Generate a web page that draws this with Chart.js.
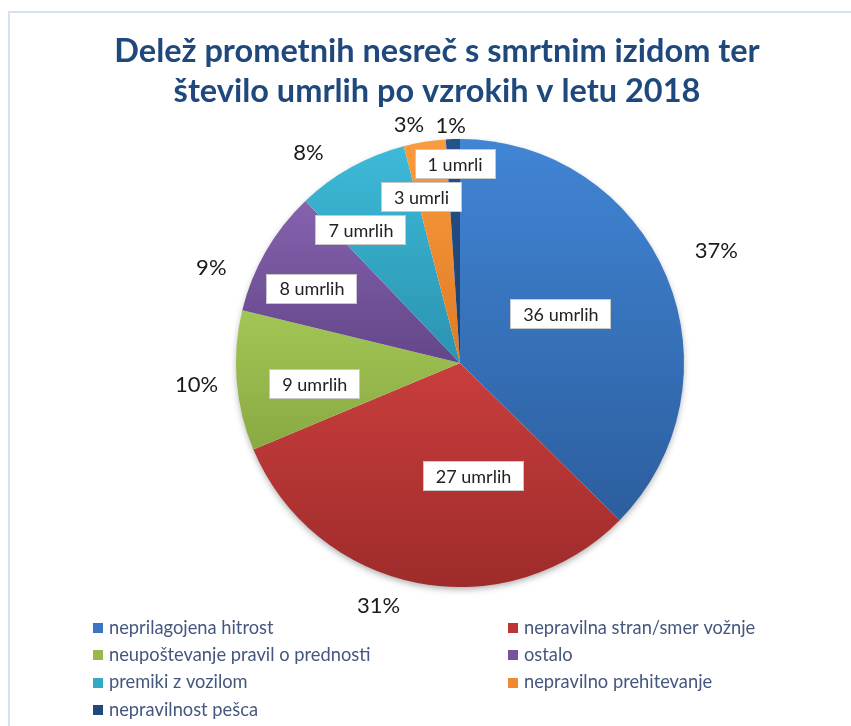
<!DOCTYPE html>
<html>
<head>
<meta charset="utf-8">
<script src="https://cdn.jsdelivr.net/npm/chart.js@4/dist/chart.umd.min.js"></script>
<style>
  body { margin: 0; background: #fff; }
  #wrap { width: 851px; height: 726px; }
</style>
</head>
<body>
<div id="wrap"><canvas id="pieChart" width="851" height="726"></canvas></div>
<script>
// data
var titleLines = ["Delež prometnih nesreč s smrtnim izidom ter", "število umrlih po vzrokih v letu 2018"];
var causes = ["neprilagojena hitrost", "nepravilna stran/smer vožnje", "neupoštevanje pravil o prednosti",
              "ostalo", "premiki z vozilom", "nepravilno prehitevanje", "nepravilnost pešca"];
var sharePct = [37, 31, 10, 9, 8, 3, 1];   // share of fatal accidents (%)
var deaths = [36, 27, 9, 8, 7, 3, 1];      // number of killed

// colours (top / bottom of each slice gradient)
var topCol = ["#4185d5", "#c93e3d", "#a2c655", "#8562ae", "#3dbad8", "#f99b3e", "#25528a"];
var botCol = ["#2c5e9e", "#9e2b2b", "#89a942", "#634689", "#2a93b0", "#e07b24", "#1c3e6e"];
var keyCol = ["#3a74c2", "#bb3737", "#97b94c", "#75549c", "#35a8c6", "#ef8a30", "#21497c"];

// label placement (angle shift in degrees from slice middle, distance as part of radius)
var innerShift = [-3, -17.7, -3.7, -3.3, -7.6, -4, 0.4];
var innerDist = [0.50, 0.51, 0.655, 0.74, 0.74, 0.76, 0.89];
var outerShift = [-1, 7.7, 0, -8.9, -6.6, -3, -0.4];
var outerDist = [1.25, 1.14, 1.18, 1.19, 1.16, 1.09, 1.065];

function umrli(n) {
  var m = n % 100;
  if (m === 1 || m === 3 || m === 4) return n + " umrli";
  if (m === 2) return n + " umrla";
  return n + " umrlih";
}

function sliceGradient(ctx) {
  var chart = ctx.chart, a = chart.chartArea, i = ctx.dataIndex;
  if (!a) return topCol[i];
  var cx = (a.left + a.right) / 2, cy = (a.top + a.bottom) / 2;
  var r = Math.min(a.right - a.left, a.bottom - a.top) / 2;
  var total = sharePct.reduce(function (s, v) { return s + v; }, 0);
  var before = 0;
  for (var k = 0; k < i; k++) before += sharePct[k];
  var start = -Math.PI / 2 + before / total * Math.PI * 2;
  var end = start + sharePct[i] / total * Math.PI * 2;
  var minY = cy, maxY = cy;
  for (var s = 0; s <= 60; s++) {
    var t = start + (end - start) * s / 60;
    var y = cy + r * Math.sin(t);
    if (y < minY) minY = y;
    if (y > maxY) maxY = y;
  }
  var g = chart.ctx.createLinearGradient(0, minY, 0, maxY + 1);
  g.addColorStop(0, topCol[i]);
  g.addColorStop(1, botCol[i]);
  return g;
}

var decorPlugin = {
  id: "decor",
  beforeDatasetsDraw: function (chart) {
    var arc = chart.getDatasetMeta(0).data[0];
    if (!arc) return;
    var c = chart.ctx;
    c.save();
    c.shadowColor = "rgba(0,0,0,0.35)";
    c.shadowBlur = 7;
    c.shadowOffsetY = 3;
    c.fillStyle = "#ffffff";
    c.beginPath();
    c.arc(arc.x, arc.y, arc.outerRadius - 1, 0, Math.PI * 2);
    c.fill();
    c.restore();
  },
  afterDatasetsDraw: function (chart) {
    var c = chart.ctx;
    var arcs = chart.getDatasetMeta(0).data;
    c.save();
    c.textAlign = "center";
    c.textBaseline = "middle";
    arcs.forEach(function (arc, i) {
      var mid = (arc.startAngle + arc.endAngle) / 2;
      // outside: share of accidents
      var ao = mid + outerShift[i] * Math.PI / 180;
      var ro = arc.outerRadius * outerDist[i];
      c.font = "22px Lato";
      c.fillStyle = "#1a1a1a";
      c.fillText(sharePct[i] + "%", arc.x + ro * Math.cos(ao), arc.y + ro * Math.sin(ao) + 1);
      // inside: number of killed, in a white box
      var ai = mid + innerShift[i] * Math.PI / 180;
      var ri = arc.outerRadius * innerDist[i];
      var x = arc.x + ri * Math.cos(ai), y = arc.y + ri * Math.sin(ai);
      c.font = "18px Lato";
      var txt = umrli(deaths[i]);
      var w = Math.round(c.measureText(txt).width + 26), h = 30;
      c.fillStyle = "#ffffff";
      c.fillRect(Math.round(x - w / 2), Math.round(y - h / 2), w, h);
      c.strokeStyle = "#c8c8c8";
      c.lineWidth = 1;
      c.strokeRect(Math.round(x - w / 2) + 0.5, Math.round(y - h / 2) + 0.5, w - 1, h - 1);
      c.fillStyle = "#222222";
      c.fillText(txt, x, y + 1);
    });
    c.restore();
  },
  afterDraw: function (chart) {
    var c = chart.ctx;
    c.save();
    // frame
    c.strokeStyle = "#d6e2f3";
    c.lineWidth = 2;
    c.beginPath();
    c.moveTo(9, 726);
    c.lineTo(9, 12);
    c.lineTo(851, 12);
    c.stroke();
    // title
    c.fillStyle = "#1f497d";
    c.font = "bold 32.5px Lato";
    c.textAlign = "center";
    c.textBaseline = "alphabetic";
    c.fillText(titleLines[0], 437, 62);
    c.fillText(titleLines[1], 437, 102);
    // legend in two columns
    c.font = "18.3px Lato";
    c.textAlign = "left";
    c.textBaseline = "middle";
    causes.forEach(function (name, i) {
      var col = i % 2, row = Math.floor(i / 2);
      var mx = col === 0 ? 93 : 508;
      var my = 628 + row * 27.3;
      c.fillStyle = keyCol[i];
      c.fillRect(mx, Math.round(my - 5), 10, 10);
      c.fillStyle = "#44577f";
      c.fillText(name, mx + 16, my);
    });
    c.restore();
  }
};

new Chart(document.getElementById("pieChart"), {
  type: "pie",
  data: {
    labels: causes,
    datasets: [{
      data: sharePct,
      backgroundColor: sliceGradient,
      borderWidth: 0
    }]
  },
  options: {
    responsive: false,
    animation: false,
    layout: { padding: { left: 236, right: 167, top: 139, bottom: 139 } },
    plugins: {
      legend: { display: false },
      title: { display: false },
      tooltip: { enabled: false }
    }
  },
  plugins: [decorPlugin]
});
</script>
</body>
</html>
